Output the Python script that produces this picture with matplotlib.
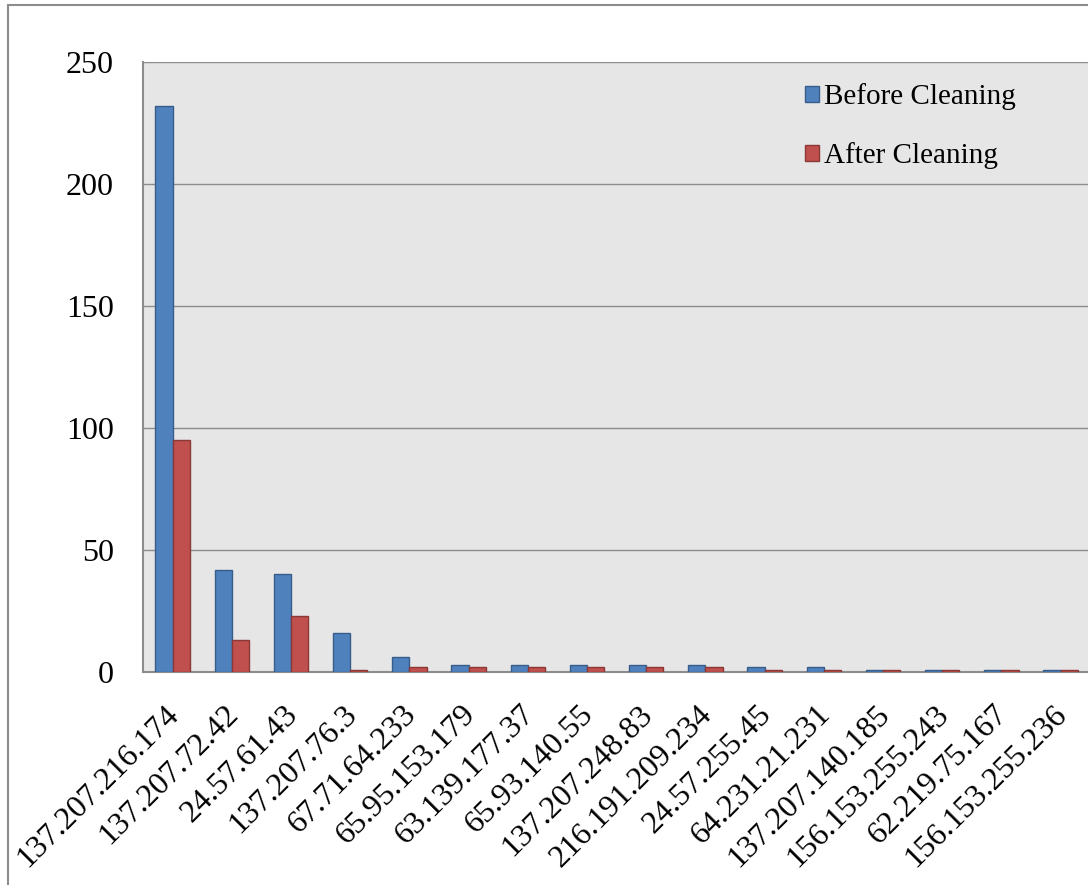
import matplotlib
matplotlib.use("Agg")
import matplotlib.pyplot as plt
import matplotlib.transforms as mtransforms
import numpy as np
from matplotlib.patches import Rectangle

categories = ["137.207.216.174", "137.207.72.42", "24.57.61.43", "137.207.76.3",
              "67.71.64.233", "65.95.153.179", "63.139.177.37", "65.93.140.55",
              "137.207.248.83", "216.191.209.234", "24.57.255.45", "64.231.21.231",
              "137.207.140.185", "156.153.255.243", "62.219.75.167", "156.153.255.236"]
before = [232, 42, 40, 16, 6, 3, 3, 3, 3, 3, 2, 2, 1, 1, 1, 1]
after = [95, 13, 23, 1, 2, 2, 2, 2, 2, 2, 1, 1, 1, 1, 1, 1]
yticks = [0, 50, 100, 150, 200, 250]

plt.rcParams['font.family'] = ['Liberation Serif', 'DejaVu Serif']

fig = plt.figure(figsize=(10.88, 8.85), dpi=100)
# outer border
fig.patches.append(Rectangle((8/1088, -0.01), 1.1, 1 - 5/885 + 0.01, transform=fig.transFigure,
                             fill=False, edgecolor='#8c8c8c', linewidth=1.5))
ax = fig.add_axes([143/1088, 1 - 672/885, (1088 - 143)/1088 + 0.002, (672 - 62)/885])
ax.set_facecolor('#E6E6E6')

x = np.arange(len(categories))
w = 0.29
ax.bar(x - w/2, before, w, color='#4F81BD', edgecolor='#385D8A', linewidth=1.0,
       label='Before Cleaning', zorder=3)
ax.bar(x + w/2, after, w, color='#C0504D', edgecolor='#8C3836', linewidth=1.0,
       label='After Cleaning', zorder=3)

ax.set_xlim(-0.5, len(categories) - 0.5)
ax.set_ylim(0, 250)
ax.set_yticks(yticks)
ax.set_yticklabels([str(v) for v in yticks], fontsize=23)
ax.yaxis.grid(True, color='#8c8c8c', linewidth=1.0, zorder=0)
ax.set_axisbelow(True)
ax.tick_params(axis='y', length=0, pad=21)
ax.set_xticks(x)
ax.set_xticklabels(categories, rotation=45, ha='right', va='top', fontsize=23,
                   rotation_mode='anchor')
ax.tick_params(axis='x', length=0, pad=20)
off = mtransforms.ScaledTranslation(-8/100, 0, fig.dpi_scale_trans)
for lab in ax.get_xticklabels():
    lab.set_transform(lab.get_transform() + off)
for s in ['top', 'right']:
    ax.spines[s].set_visible(False)
for s in ['left', 'bottom']:
    ax.spines[s].set_color('#8c8c8c')
    ax.spines[s].set_linewidth(1.5)

leg = ax.legend(loc='upper left', bbox_to_anchor=(0.671, 1.008), frameon=False, fontsize=21,
                handlelength=0.5, handleheight=0.5, handletextpad=0.15, labelspacing=1.1)

fig.savefig('out.png', dpi=100)
